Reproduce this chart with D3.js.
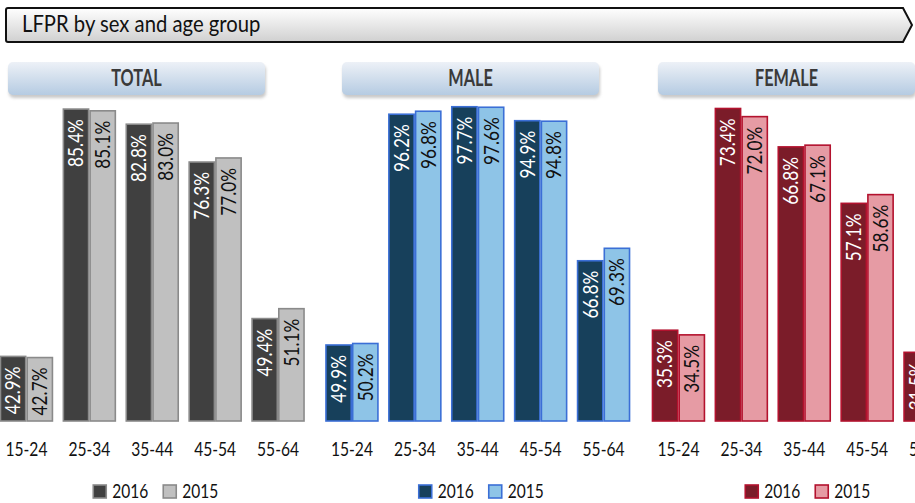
<!DOCTYPE html>
<html>
<head>
<meta charset="utf-8">
<script src="https://cdn.jsdelivr.net/npm/d3@7"></script>
<style>
  body { margin: 0; background: #fff; }
  svg text { font-family: Lato, "Open Sans", sans-serif; }
</style>
</head>
<body>
<svg id="chart"></svg>
<script>
// ---------- data ----------
const ageGroups = ["15-24", "25-34", "35-44", "45-54", "55-64"];
const years = ["2016", "2015"];
const panelNames = ["TOTAL", "MALE", "FEMALE"];

const total2016 = [42.9, 85.4, 82.8, 76.3, 49.4];
const total2015 = [42.7, 85.1, 83.0, 77.0, 51.1];
const male2016 = [49.9, 96.2, 97.7, 94.9, 66.8];
const male2015 = [50.2, 96.8, 97.6, 94.8, 69.3];
const female2016 = [35.3, 73.4, 66.8, 57.1, 31.5];
const female2015 = [34.5, 72.0, 67.1, 58.6, 33.0];

// value axis of each panel (not drawn, Excel style auto min)
const axisMin = [31.8, 34.65, 19.7];
const axisMax = [86.1, 98.05, 74.0];

// ---------- layout ----------
const W = 915, H = 503;
const baseY = 421, topY = 105;
const panelX = [-5, 320.5, 647];
const panelW = 314.5;
const pillX = [8, 342, 658], pillW = 257;
const narrow = 0.84; // the source font is a condensed face

const colors = [
  {dark: "#404040", light: "#c0c0c0", stroke: "#8a8a8a"},
  {dark: "#17405b", light: "#8ec4e7", stroke: "#3b6fd6"},
  {dark: "#7b1c29", light: "#e69ba4", stroke: "#b3122e"}
];

const series = [
  [total2016, total2015],
  [male2016, male2015],
  [female2016, female2015]
];

const svg = d3.select("#chart").attr("width", W).attr("height", H);
const defs = svg.append("defs");

const tg = defs.append("linearGradient").attr("id", "titleGrad")
  .attr("x1", 0).attr("y1", 0).attr("x2", 0).attr("y2", 1);
tg.append("stop").attr("offset", "0%").attr("stop-color", "#ffffff");
tg.append("stop").attr("offset", "100%").attr("stop-color", "#d0d0d0");

const pg = defs.append("linearGradient").attr("id", "pillGrad")
  .attr("x1", 0).attr("y1", 0).attr("x2", 0).attr("y2", 1);
pg.append("stop").attr("offset", "0%").attr("stop-color", "#edf1f7");
pg.append("stop").attr("offset", "100%").attr("stop-color", "#b5cbe2");

defs.append("filter").attr("id", "soft")
  .append("feGaussianBlur").attr("stdDeviation", 1.5);

//------------------- title banner -------------------//
svg.append("path")
  .attr("d", "M8,8 H903 L912,25 L903,42 H8 Q6,42 6,40 V10 Q6,8 8,8 Z")
  .attr("fill", "url(#titleGrad)")
  .attr("stroke", "#111")
  .attr("stroke-width", 2);

svg.append("text")
  .attr("transform", "translate(22,32) scale(0.9,1)")
  .attr("font-size", 22.5)
  .attr("fill", "#111")
  .text("LFPR by sex and age group");

//------------------- panels -------------------//
panelNames.forEach(function(name, p) {

  // header pill
  svg.append("rect")
    .attr("x", pillX[p] + 1).attr("y", 65)
    .attr("width", pillW).attr("height", 33)
    .attr("rx", 5)
    .attr("fill", "#c9c9c9")
    .attr("filter", "url(#soft)");
  svg.append("rect")
    .attr("x", pillX[p]).attr("y", 62)
    .attr("width", pillW).attr("height", 33)
    .attr("rx", 5)
    .attr("fill", "url(#pillGrad)");
  svg.append("text")
    .attr("transform", "translate(" + (pillX[p] + pillW / 2) + ",86) scale(0.74,1)")
    .attr("text-anchor", "middle")
    .attr("font-size", 22)
    .attr("font-weight", "bold")
    .attr("fill", "#3a3a3a")
    .text(name);

  const x0 = d3.scaleBand()
    .domain(ageGroups)
    .range([panelX[p], panelX[p] + panelW])
    .paddingInner(0.15)
    .paddingOuter(0.075);

  const x1 = d3.scaleBand()
    .domain(years)
    .range([0, x0.bandwidth()]);

  const y = d3.scaleLinear()
    .domain([axisMin[p], axisMax[p]])
    .range([baseY, topY]);

  const c = colors[p];
  const rows = [];
  ageGroups.forEach(function(ag, i) {
    years.forEach(function(yr, k) {
      rows.push({age: ag, year: yr, value: series[p][k][i]});
    });
  });

  const g = svg.append("g");

  g.selectAll("rect.bar")
    .data(rows)
    .enter()
    .append("rect")
    .attr("class", "bar")
    .attr("x", d => x0(d.age) + x1(d.year) + 0.75)
    .attr("y", d => y(d.value))
    .attr("width", x1.bandwidth() - 1.5)
    .attr("height", d => baseY - y(d.value))
    .attr("fill", d => d.year === "2016" ? c.dark : c.light)
    .attr("stroke", c.stroke)
    .attr("stroke-width", 1.6);

  g.selectAll("text.val")
    .data(rows)
    .enter()
    .append("text")
    .attr("class", "val")
    .attr("transform", d => "translate(" + (x0(d.age) + x1(d.year) + x1.bandwidth() / 2) + "," + (y(d.value) + 10) + ") rotate(-90) scale(" + narrow + ",1)")
    .attr("text-anchor", "end")
    .attr("dy", "0.36em")
    .attr("font-size", 20.5)
    .attr("fill", d => d.year === "2016" ? "#ffffff" : "#111111")
    .text(d => d.value.toFixed(1) + "%");

  // category axis
  const axis = svg.append("g")
    .attr("transform", "translate(0," + (baseY + 18) + ")")
    .call(d3.axisBottom(x0).tickSize(0));
  axis.select(".domain").remove();
  axis.selectAll("text")
    .attr("font-family", null)
    .attr("font-size", 19.5)
    .attr("fill", "#111")
    .attr("transform", "scale(0.8,1)");

  // legend
  const cx = panelX[p] + panelW / 2 + 4;
  const lg = svg.append("g").attr("transform", "translate(" + (cx - 64) + ",484)");
  years.forEach(function(yr, k) {
    const item = lg.append("g").attr("transform", "translate(" + (k * 70) + ",0)");
    item.append("rect")
      .attr("x", 1).attr("y", 1)
      .attr("width", 13).attr("height", 13)
      .attr("fill", k === 0 ? c.dark : c.light)
      .attr("stroke", c.stroke)
      .attr("stroke-width", 1.6);
    item.append("text")
      .attr("transform", "translate(20,14) scale(0.84,1)")
      .attr("font-size", 18.5)
      .attr("fill", "#111")
      .text(yr);
  });
});
</script>
</body>
</html>
